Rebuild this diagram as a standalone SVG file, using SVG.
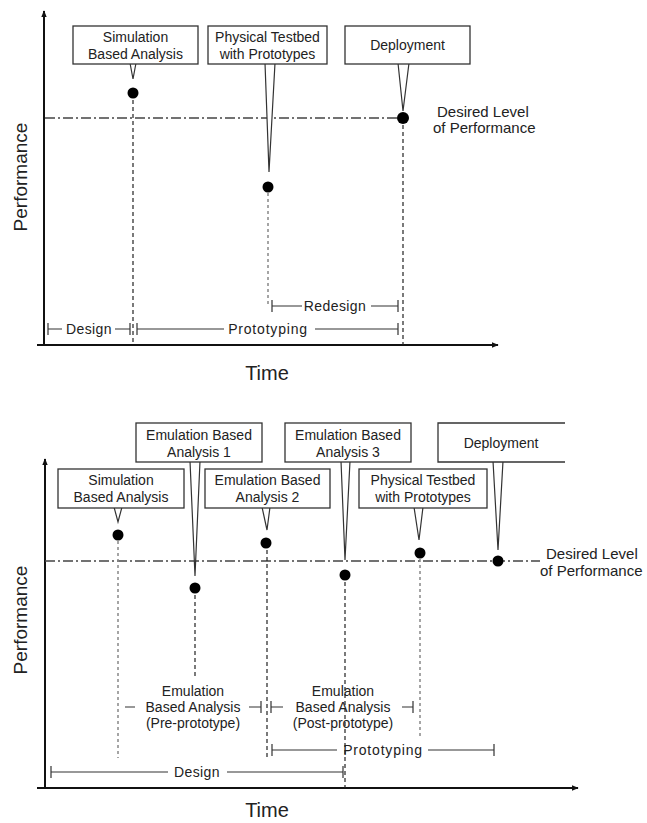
<svg xmlns="http://www.w3.org/2000/svg" width="647" height="823" viewBox="0 0 647 823">
<style>
text{font-family:"Liberation Sans",Arial,sans-serif;fill:#222;}
.bt{font-size:14px;text-anchor:middle;}
.lb{font-size:14px;}
.dl{font-size:15px;}
.ax{font-size:19px;text-anchor:middle;}
.tm{font-size:20px;text-anchor:middle;}
.box{fill:#fff;stroke:#333;stroke-width:1.3;}
.ptr{fill:#fff;stroke:#333;stroke-width:1.2;}
.axis{stroke:#111;stroke-width:2;fill:none;}
.lvl{stroke:#444;stroke-width:1.3;stroke-dasharray:10 3 2 3;fill:none;}
.vd{stroke:#222;stroke-width:1.2;stroke-dasharray:4 3;fill:none;}
.vg{stroke:#888;stroke-width:1.5;stroke-dasharray:3 3;fill:none;}
.bar{stroke:#333;stroke-width:1.2;fill:none;}
.dot{fill:#000;}
</style>
<defs>
<marker id="ah" viewBox="0 0 10 10" refX="9" refY="5" markerWidth="7" markerHeight="7" orient="auto" markerUnits="userSpaceOnUse">
<path d="M0,1 L10,5 L0,9 z" fill="#111"/>
</marker>
</defs>

<!-- ===== TOP CHART ===== -->
<g id="top-axes">
<path class="axis" d="M44,345 L44,11" marker-end="url(#ah)"/>
<path class="axis" d="M37,345 L498,345" marker-end="url(#ah)"/>
<text class="ax" transform="translate(27,177) rotate(-90)">Performance</text>
<text class="tm" x="267" y="380">Time</text>
</g>

<g id="top-connectors">
<path class="lvl" d="M45,118 L405,118"/>
<path class="vd" d="M133,93 L133,345"/>
<path class="vg" d="M268,187 L268,305"/>
<path class="vd" d="M403,118 L403,345"/>
<path class="ptr" d="M130,63 L133,79 L136,63"/>
<path class="ptr" d="M265,63 L269,172 L275,63"/>
<path class="ptr" d="M398,63 L403,111 L409,63"/>
</g>

<g id="top-sim">
<rect class="box" x="73" y="26" width="125" height="38"/>
<text class="bt" x="135.5" y="42">Simulation</text>
<text class="bt" x="135.5" y="59">Based Analysis</text>
<circle class="dot" cx="133" cy="93" r="5.5"/>
</g>
<g id="top-phys">
<rect class="box" x="208" y="26" width="119" height="38"/>
<text class="bt" x="267.5" y="42">Physical Testbed</text>
<text class="bt" x="267.5" y="59">with Prototypes</text>
<circle class="dot" cx="268" cy="187" r="5.5"/>
</g>
<g id="top-deploy">
<rect class="box" x="345" y="26" width="125" height="38"/>
<text class="bt" x="407.5" y="50">Deployment</text>
<circle class="dot" cx="403" cy="118" r="6"/>
</g>
<g id="top-level-label">
<text class="dl" x="437" y="117">Desired Level</text>
<text class="dl" x="433" y="133">of Performance</text>
</g>

<g id="top-bars">
<path class="bar" d="M272,300 L272,312 M272,306 L302,306 M371,306 L398,306 M398,300 L398,312"/>
<text class="lb" x="335" y="311" text-anchor="middle" letter-spacing="0.4">Redesign</text>
<path class="bar" d="M48,323 L48,335 M48,329 L62,329 M115,329 L130,329 M130,323 L130,335"/>
<text class="lb" x="89" y="334" text-anchor="middle" letter-spacing="0.4">Design</text>
<path class="bar" d="M137,323 L137,335 M137,329 L224,329 M315,329 L398,329 M398,323 L398,335"/>
<text class="lb" x="268" y="334" text-anchor="middle" letter-spacing="0.8">Prototyping</text>
</g>

<!-- ===== BOTTOM CHART ===== -->
<g id="bot-axes">
<path class="axis" d="M45,788 L45,459" marker-end="url(#ah)"/>
<path class="axis" d="M37,788 L578,788" marker-end="url(#ah)"/>
<text class="ax" transform="translate(27,620) rotate(-90)">Performance</text>
<text class="tm" x="267" y="817">Time</text>
</g>

<g id="bot-connectors">
<path class="lvl" d="M45,561 L540,561"/>
<path class="vg" d="M118,535 L118,758"/>
<path class="vd" d="M195,588 L195,676"/>
<path class="vd" d="M267,543 L267,760"/>
<path class="vd" d="M345,575 L345,788"/>
<path class="vg" d="M420,553 L420,736"/>
<path class="ptr" d="M114,507 L118,522 L122,507"/>
<path class="ptr" d="M190,461 L195,576 L200,461"/>
<path class="ptr" d="M262,507 L267,530 L270,507"/>
<path class="ptr" d="M341,461 L345,560 L350,461"/>
<path class="ptr" d="M414,507 L419,540 L423,507"/>
<path class="ptr" d="M493,461 L498,550 L503,461"/>
</g>

<g id="bot-sim">
<rect class="box" x="58" y="469" width="126" height="39"/>
<text class="bt" x="121" y="485">Simulation</text>
<text class="bt" x="121" y="502">Based Analysis</text>
<circle class="dot" cx="118" cy="535" r="5.5"/>
</g>
<g id="bot-emu1">
<rect class="box" x="136" y="423" width="126" height="39"/>
<text class="bt" x="199" y="440">Emulation Based</text>
<text class="bt" x="199" y="457">Analysis 1</text>
<circle class="dot" cx="195" cy="588" r="5.5"/>
</g>
<g id="bot-emu2">
<rect class="box" x="205" y="469" width="125" height="39"/>
<text class="bt" x="267.5" y="485">Emulation Based</text>
<text class="bt" x="267.5" y="502">Analysis 2</text>
<circle class="dot" cx="266" cy="543" r="5.5"/>
</g>
<g id="bot-emu3">
<rect class="box" x="285" y="423" width="126" height="39"/>
<text class="bt" x="348" y="440">Emulation Based</text>
<text class="bt" x="348" y="457">Analysis 3</text>
<circle class="dot" cx="345" cy="575" r="5.5"/>
</g>
<g id="bot-phys">
<rect class="box" x="359" y="469" width="128" height="39"/>
<text class="bt" x="423" y="485">Physical Testbed</text>
<text class="bt" x="423" y="502">with Prototypes</text>
<circle class="dot" cx="420" cy="553" r="5.5"/>
</g>
<g id="bot-deploy">
<path class="box" d="M565,423 L438,423 L438,462 L565,462"/>
<text class="bt" x="501" y="448">Deployment</text>
<circle class="dot" cx="498" cy="561" r="5.5"/>
</g>
<g id="bot-level-label">
<text class="dl" x="546" y="559">Desired Level</text>
<text class="dl" x="540" y="576">of Performance</text>
</g>

<g id="bot-bars">
<text class="lb" x="193" y="696" text-anchor="middle">Emulation</text>
<text class="lb" x="193" y="712" text-anchor="middle">Based Analysis</text>
<text class="lb" x="193" y="728" text-anchor="middle">(Pre-prototype)</text>
<path class="bar" d="M125,707 L135,707 M249,707 L261,707 M261,701 L261,713"/>
<text class="lb" x="343" y="696" text-anchor="middle">Emulation</text>
<text class="lb" x="343" y="712" text-anchor="middle">Based Analysis</text>
<text class="lb" x="343" y="728" text-anchor="middle">(Post-prototype)</text>
<path class="bar" d="M271,701 L271,713 M271,707 L283,707 M402,707 L413,707 M413,701 L413,713"/>
<path class="bar" d="M272,744 L272,756 M272,750 L337,750 M428,750 L494,750 M494,744 L494,756"/>
<text class="lb" x="383" y="755" text-anchor="middle" letter-spacing="0.8">Prototyping</text>
<path class="bar" d="M51,766 L51,778 M51,772 L168,772 M227,772 L343,772 M343,766 L343,778"/>
<text class="lb" x="197" y="777" text-anchor="middle" letter-spacing="0.4">Design</text>
</g>
</svg>
